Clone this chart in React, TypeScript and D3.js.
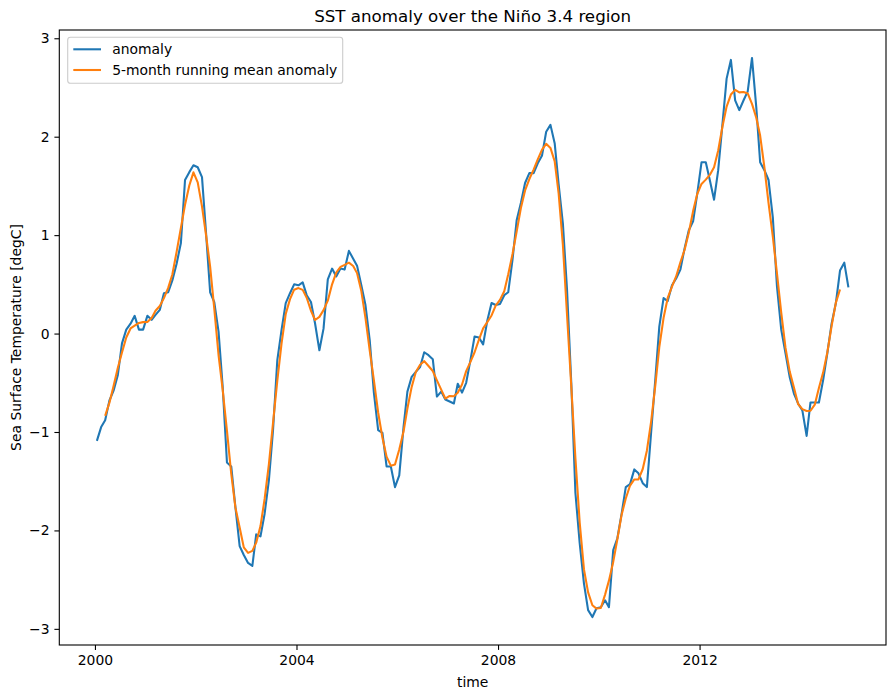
import React, { useEffect, useRef } from 'react';
import * as d3 from 'd3';

// ---- data (monthly, Jan 2000 – Dec 2014) ----
const START_YEAR = 2000;
const anomaly: number[] = [
  // 2000
  -1.09, -0.95, -0.88, -0.68, -0.58, -0.42, -0.10, 0.04, 0.10, 0.18, 0.04, 0.04,
  // 2001
  0.18, 0.14, 0.19, 0.24, 0.41, 0.42, 0.54, 0.71, 0.92, 1.56, 1.64, 1.71,
  // 2002
  1.69, 1.59, 1.05, 0.42, 0.32, 0.02, -0.54, -1.31, -1.35, -1.76, -2.16, -2.25,
  // 2003
  -2.33, -2.36, -2.04, -2.06, -1.83, -1.49, -0.98, -0.27, 0.04, 0.31, 0.41, 0.50,
  // 2004
  0.49, 0.52, 0.39, 0.32, 0.10, -0.17, 0.05, 0.55, 0.66, 0.58, 0.66, 0.65,
  // 2005
  0.84, 0.76, 0.69, 0.49, 0.29, -0.07, -0.60, -0.98, -1.01, -1.35, -1.35, -1.56,
  // 2006
  -1.44, -0.95, -0.59, -0.44, -0.39, -0.34, -0.19, -0.22, -0.26, -0.64, -0.59, -0.67,
  // 2007
  -0.69, -0.71, -0.51, -0.60, -0.50, -0.27, -0.03, -0.04, -0.11, 0.13, 0.31, 0.29,
  // 2008
  0.30, 0.39, 0.42, 0.75, 1.15, 1.33, 1.53, 1.63, 1.63, 1.73, 1.81, 2.05,
  // 2009
  2.12, 1.93, 1.52, 1.12, 0.45, -0.50, -1.62, -2.13, -2.54, -2.81, -2.88, -2.79,
  // 2010
  -2.78, -2.71, -2.78, -2.20, -2.08, -1.83, -1.56, -1.53, -1.38, -1.42, -1.52, -1.56,
  // 2011
  -1.00, -0.45, 0.07, 0.36, 0.33, 0.49, 0.56, 0.65, 0.87, 1.05, 1.14, 1.42,
  // 2012
  1.74, 1.74, 1.56, 1.36, 1.66, 2.13, 2.59, 2.78, 2.37, 2.27, 2.37, 2.46,
  // 2013
  2.80, 2.30, 1.74, 1.66, 1.56, 1.18, 0.48, 0.04, -0.20, -0.44, -0.61, -0.71,
  // 2014
  -0.78, -1.04, -0.70, -0.70, -0.70, -0.47, -0.20, 0.10, 0.31, 0.64, 0.72, 0.47,
];
const RUNNING_WINDOW = 5;
const yTickValues = [-3, -2, -1, 0, 1, 2, 3];
const TITLE = 'SST anomaly over the Niño 3.4 region';
const X_LABEL = 'time';
const Y_LABEL = 'Sea Surface Temperature [degC]';
const LEGEND_LABELS = ['anomaly', '5-month running mean anomaly'];
const COLORS = ['#1f77b4', '#ff7f0e'];

// ---- layout ----
const W = 896;
const H = 699;
const M = { left: 59.3, right: 886, top: 30, bottom: 645 };
const FONT = '"DejaVu Sans", Verdana, sans-serif';
const TICK_FS = 13.9;

const dates = anomaly.map((_, i) => new Date(Date.UTC(START_YEAR, i, 15)));
const half = Math.floor(RUNNING_WINDOW / 2);
const runningMean: (number | null)[] = anomaly.map((_, i) =>
  i < half || i >= anomaly.length - half
    ? null
    : (d3.mean(anomaly.slice(i - half, i + half + 1)) as number)
);

const t0 = +dates[0];
const t1 = +dates[dates.length - 1];
const tPad = (t1 - t0) * 0.05;
const x = d3
  .scaleUtc()
  .domain([new Date(t0 - tPad), new Date(t1 + tPad)])
  .range([M.left, M.right]);

const [vMin, vMax] = d3.extent(anomaly) as [number, number];
const vPad = (vMax - vMin) * 0.05;
const y = d3
  .scaleLinear()
  .domain([vMin - vPad, vMax + vPad])
  .range([M.bottom, M.top]);

const fmtNum = (d: number) => (d < 0 ? '\u2212' + Math.abs(d) : String(d));

export default function App() {
  const xAxisRef = useRef<SVGGElement>(null);
  const yAxisRef = useRef<SVGGElement>(null);

  useEffect(() => {
    const tick = 4.9;
    const pad = 4.9;
    if (xAxisRef.current) {
      const g = d3.select(xAxisRef.current);
      g.call(
        d3
          .axisBottom(x)
          .ticks(d3.utcYear.every(4))
          .tickFormat((d) => d3.utcFormat('%Y')(d as Date))
          .tickSize(tick)
          .tickPadding(pad)
      );
      g.select('.domain').remove();
      g.attr('font-family', FONT).attr('font-size', TICK_FS);
      g.selectAll('line').attr('stroke', '#000').attr('stroke-width', 1.1);
      g.selectAll('text').attr('fill', '#000').attr('dy', '0.76em');
    }
    if (yAxisRef.current) {
      const g = d3.select(yAxisRef.current);
      g.call(
        d3
          .axisLeft(y)
          .tickValues(yTickValues)
          .tickFormat((d) => fmtNum(d as number))
          .tickSize(tick)
          .tickPadding(pad)
      );
      g.select('.domain').remove();
      g.attr('font-family', FONT).attr('font-size', TICK_FS);
      g.selectAll('line').attr('stroke', '#000').attr('stroke-width', 1.1);
      g.selectAll('text').attr('fill', '#000');
    }
  }, []);

  const lineAnom = d3
    .line<number>()
    .x((_, i) => x(dates[i]))
    .y((d) => y(d));
  const lineMean = d3
    .line<number | null>()
    .defined((d) => d !== null)
    .x((_, i) => x(dates[i]))
    .y((d) => y(d as number));

  const legX = 67.7;
  const legY = 37.3;
  const legW = 275;
  const legH = 46;
  const rows = [49.3, 70];

  return (
    <svg
      width={W}
      height={H}
      viewBox={`0 0 ${W} ${H}`}
      style={{ position: 'absolute', left: 0, top: 0, display: 'block', background: '#fff' }}
      fontFamily={FONT}
    >
      <rect x={0} y={0} width={W} height={H} fill="#fff" />
      <text
        x={(M.left + M.right) / 2}
        y={22}
        textAnchor="middle"
        fontSize={16.7}
        fill="#000"
      >
        {TITLE}
      </text>

      <path
        d={lineAnom(anomaly) || ''}
        fill="none"
        stroke={COLORS[0]}
        strokeWidth={2.08}
        strokeLinejoin="round"
      />
      <path
        d={lineMean(runningMean) || ''}
        fill="none"
        stroke={COLORS[1]}
        strokeWidth={2.08}
        strokeLinejoin="round"
      />

      <rect
        x={M.left}
        y={M.top}
        width={M.right - M.left}
        height={M.bottom - M.top}
        fill="none"
        stroke="#000"
        strokeWidth={1.1}
      />
      <g ref={xAxisRef} transform={`translate(0,${M.bottom})`} />
      <g ref={yAxisRef} transform={`translate(${M.left},0)`} />

      <text x={(M.left + M.right) / 2} y={687} textAnchor="middle" fontSize={TICK_FS} fill="#000">
        {X_LABEL}
      </text>
      <text
        transform={`translate(21,${(M.top + M.bottom) / 2}) rotate(-90)`}
        textAnchor="middle"
        fontSize={TICK_FS}
        fill="#000"
      >
        {Y_LABEL}
      </text>

      <g>
        <rect
          x={legX}
          y={legY}
          width={legW}
          height={legH}
          rx={2.8}
          fill="#fff"
          fillOpacity={0.8}
          stroke="#cccccc"
          strokeWidth={1.1}
        />
        {LEGEND_LABELS.map((lab, k) => (
          <g key={lab}>
            <line
              x1={73.3}
              x2={101}
              y1={rows[k]}
              y2={rows[k]}
              stroke={COLORS[k]}
              strokeWidth={2.08}
            />
            <text x={112.2} y={rows[k] + 5} fontSize={TICK_FS} fill="#000">
              {lab}
            </text>
          </g>
        ))}
      </g>
    </svg>
  );
}
